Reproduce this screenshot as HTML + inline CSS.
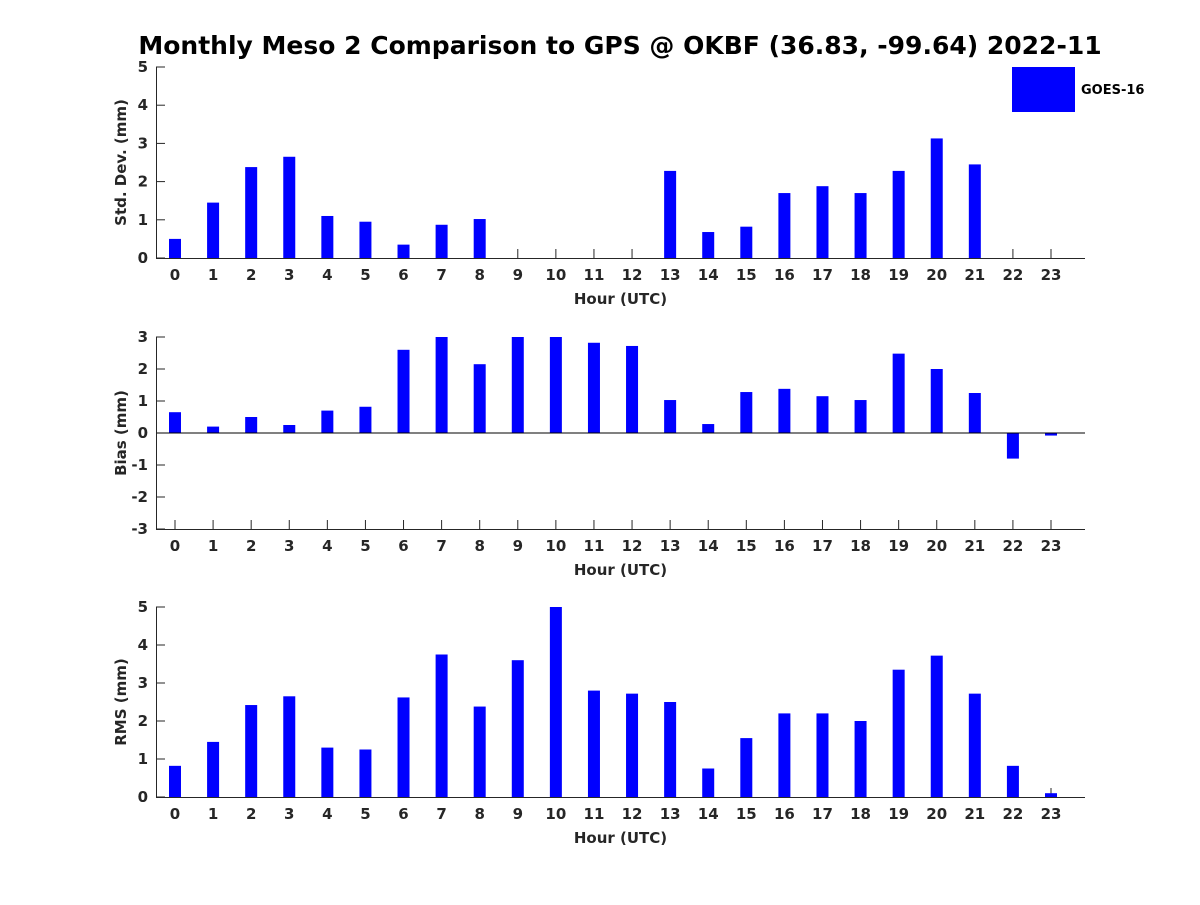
<!DOCTYPE html>
<html><head><meta charset="utf-8"><style>
body{margin:0;background:#fff;}
svg text{font-family:"DejaVu Sans","Liberation Sans",sans-serif;font-weight:bold;fill:#262626;}
</style></head><body>
<svg id="chart" width="1200" height="900" xmlns="http://www.w3.org/2000/svg">
<rect width="1200" height="900" fill="#fff"/>
<text x="620" y="54" text-anchor="middle" font-size="25" style="fill:#000">Monthly Meso 2 Comparison to GPS @ OKBF (36.83, -99.64) 2022-11</text>
<g>
<rect x="1012" y="67" width="63" height="45" fill="#0000ff"/>
<text x="1081" y="94" font-size="13" style="fill:#000">GOES-16</text>
</g>
</svg>
<script>
const hours = [0,1,2,3,4,5,6,7,8,9,10,11,12,13,14,15,16,17,18,19,20,21,22,23];
const stdDev = [0.5,1.45,2.38,2.65,1.1,0.95,0.35,0.87,1.02,0,0,0,0,2.28,0.68,0.82,1.7,1.88,1.7,2.28,3.13,2.45,0,0];
const bias = [0.65,0.2,0.5,0.25,0.7,0.82,2.6,3.0,2.15,3.0,3.0,2.82,2.72,1.03,0.28,1.28,1.38,1.15,1.03,2.48,2.0,1.25,-0.8,-0.08];
const rms = [0.82,1.45,2.42,2.65,1.3,1.25,2.62,3.75,2.38,3.6,5.0,2.8,2.72,2.5,0.75,1.55,2.2,2.2,2.0,3.35,3.72,2.72,0.82,0.1];
const stdTicks = [0,1,2,3,4,5];
const biasTicks = [-3,-2,-1,0,1,2,3];
const rmsTicks = [0,1,2,3,4,5];

const NS = "http://www.w3.org/2000/svg";
const svg = document.getElementById('chart');
function mk(tag, attrs, parent){const e=document.createElementNS(NS,tag);for(const k in attrs)e.setAttribute(k,attrs[k]);(parent||svg).appendChild(e);return e;}

const X0=156, X1=1085;
function xPos(h){return 175 + h*(1051-175)/23;}

function panel(name, top, bottom, ymin, ymax, ticks, vals, ylabel){
  const g = mk('g',{});
  
  
  const y = v => bottom - (v - ymin)/(ymax - ymin)*(bottom - top);
  hours.forEach(h=>{
    const x = xPos(h);
    mk('line',{x1:x,x2:x,y1:bottom,y2:bottom-9,stroke:'#262626','stroke-width':1},g);
    const t = mk('text',{x:x,y:bottom+22,'text-anchor':'middle','font-size':15},g);
    t.textContent = h;
    
    
  });
  ticks.forEach(v=>{
    const yy = y(v);
    mk('line',{x1:X0,x2:X0+9,y1:yy,y2:yy,stroke:'#262626','stroke-width':1},g);
    const t = mk('text',{x:X0-8,y:yy+5,'text-anchor':'end','font-size':15},g);
    t.textContent = v;
    
    
  });
  vals.forEach((v,i)=>{
    const y0 = y(0), y1 = y(v);
    const r = mk('rect',{x:xPos(hours[i])-6,y:Math.min(y0,y1),width:12,height:Math.max(Math.abs(y1-y0),0),fill:'#0000ff'},g);
    
    
  });
  if(ymin<0){ mk('line',{x1:X0,x2:X1,y1:y(0),y2:y(0),stroke:'#000','stroke-width':1},g); }
  const ax = mk('line',{x1:X0,x2:X1,y1:bottom+0.5,y2:bottom+0.5,stroke:'#262626','stroke-width':1},g);
  
  
  const ay = mk('line',{x1:X0+0.5,x2:X0+0.5,y1:top,y2:bottom,stroke:'#262626','stroke-width':1},g);
  
  
  const xt = mk('text',{x:(X0+X1)/2,y:bottom+46,'text-anchor':'middle','font-size':15},g);
  xt.textContent = 'Hour (UTC)';
  
  
  const cy = (top+bottom)/2;
  const yt = mk('text',{x:126,y:cy,'text-anchor':'middle','font-size':15,transform:'rotate(-90 126 '+cy+')'},g);
  yt.textContent = ylabel;
  
  
}
panel('std-dev', 67, 258, 0, 5, stdTicks, stdDev, 'Std. Dev. (mm)');
panel('bias', 337, 529, -3, 3, biasTicks, bias, 'Bias (mm)');
panel('rms', 607, 797, 0, 5, rmsTicks, rms, 'RMS (mm)');
</script>
</body></html>
